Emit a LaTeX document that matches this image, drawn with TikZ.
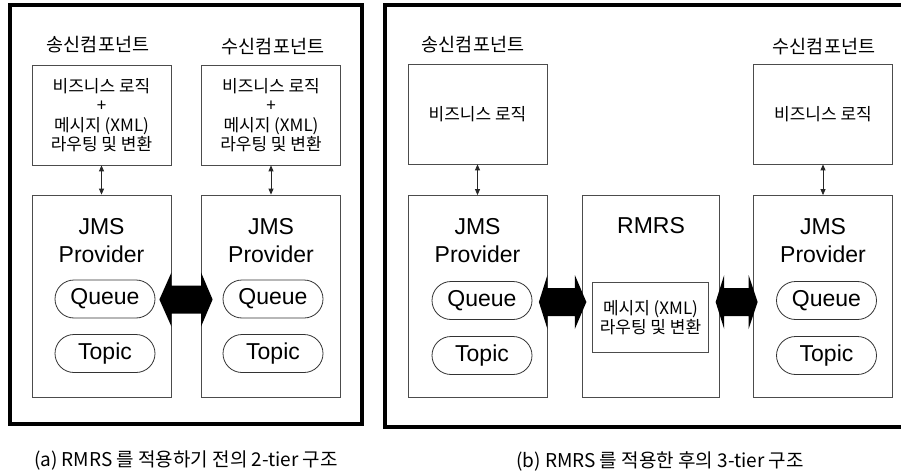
\documentclass[tikz,border=0pt]{standalone}
\usepackage{fontspec}
\setmainfont{Liberation Sans}
\newfontfamily\kr{Noto Sans CJK KR}
\usetikzlibrary{arrows.meta,shapes.misc,calc}

\newcommand{\fatarrow}[7]{%
  \fill let \p1=(#1.east), \p2=(#2.west), \p3=(0,#3) in
    (\x1-#4pt,\y3) -- (\x1-#4pt+#5pt,\y3+27pt) -- (\x1-#4pt+#5pt,\y3+14pt)
    -- (\x2+#6pt-#7pt,\y3+14pt) -- (\x2+#6pt-#7pt,\y3+27pt) -- (\x2+#6pt,\y3)
    -- (\x2+#6pt-#7pt,\y3-27pt) -- (\x2+#6pt-#7pt,\y3-14pt)
    -- (\x1-#4pt+#5pt,\y3-14pt) -- (\x1-#4pt+#5pt,\y3-27pt) -- cycle;}

\begin{document}
\begin{tikzpicture}[x=1pt,y=-1pt]
  \tikzstyle{frame}=[draw=black,line width=4pt]
  \tikzstyle{box}=[draw=black!70,line width=0.8pt,fill=white,inner sep=0pt]
  \tikzstyle{logic}=[box,minimum width=139pt,minimum height=100pt,align=center,font=\kr\fontsize{17}{19.5}\selectfont]
  \tikzstyle{provider}=[box,minimum width=139pt,minimum height=202pt]
  \tikzstyle{inner}=[box,minimum width=116pt,minimum height=70pt,align=center,font=\kr\fontsize{17}{19}\selectfont]
  \tikzstyle{title}=[font=\kr\fontsize{18.5}{20}\selectfont]
  \tikzstyle{big}=[font=\fontsize{23}{27}\selectfont]
  \tikzstyle{dest}=[draw=black!80,line width=0.8pt,rounded rectangle,minimum width=100pt,minimum height=38pt,inner sep=0pt,font=\fontsize{23}{27}\selectfont]
  \tikzstyle{link}=[draw=black!85,line width=0.8pt,{Triangle[length=6pt,width=5pt]}-{Triangle[length=6pt,width=5pt]}]
  \tikzstyle{caption}=[font=\kr\fontsize{19}{20}\selectfont]

  \useasboundingbox (0,0) rectangle (901,473);
  \fill[white] (0,0) rectangle (901,473);
  \draw[frame] (9.5,4.7) rectangle (362,424);
  \draw[frame] (384.5,4.7) rectangle (906,426.5);

  \begin{scope}
    \node [title] (sendA) at (98,45) {송신컴포넌트};
    \node [title] (recvA) at (273,47) {수신컴포넌트};
    \node [logic] (logicA1) at (101.5,115) {비즈니스 로직\\+\\메시지 (XML)\\라우팅 및 변환};
    \node [logic] (logicA2) at (271,115) {비즈니스 로직\\+\\메시지 (XML)\\라우팅 및 변환};
    \node [provider] (jmsA1) at (101.5,296) {};
    \node [provider] (jmsA2) at (271,296) {};
    \node [big] (jmsTextA1) at (101.5,227) {JMS};
    \node [big] (provTextA1) at (101.5,254) {Provider};
    \node [big] (jmsTextA2) at (271,227) {JMS};
    \node [big] (provTextA2) at (271,254) {Provider};
    \node [dest] (queueA1) at (105,299) {Queue};
    \node [dest] (topicA1) at (105,353.5) {Topic};
    \node [dest] (queueA2) at (273,299) {Queue};
    \node [dest] (topicA2) at (273,353.5) {Topic};
    \path[link] (logicA1) -- (jmsA1);
    \path[link] (logicA2) -- (jmsA2);
    \fatarrow{jmsA1}{jmsA2}{299.5}{12}{12}{11.5}{11.5}
    \node [caption] (capA) at (186,461) {(a) RMRS 를 적용하기 전의 2-tier 구조};
  \end{scope}

  \begin{scope}
    \node [title] (sendB) at (473,45) {송신컴포넌트};
    \node [title] (recvB) at (824,47) {수신컴포넌트};
    \node [logic] (logicB1) at (477.5,114) {비즈니스 로직};
    \node [logic] (logicB2) at (823,114) {비즈니스 로직};
    \node [provider] (jmsB1) at (477.5,296.5) {};
    \node [provider,minimum width=137.5pt] (rmrs) at (651,296.5) {};
    \node [provider] (jmsB2) at (823,296.5) {};
    \node [big] (jmsTextB1) at (477.5,227) {JMS};
    \node [big] (provTextB1) at (477.5,254.5) {Provider};
    \node [big] (rmrsText) at (651,226) {RMRS};
    \node [big] (jmsTextB2) at (823,227) {JMS};
    \node [big] (provTextB2) at (823,254.5) {Provider};
    \node [inner] (route) at (650.5,317.5) {메시지 (XML)\\라우팅 및 변환};
    \node [dest] (queueB1) at (482,300.5) {Queue};
    \node [dest] (topicB1) at (482,355.5) {Topic};
    \node [dest] (queueB2) at (826.5,300.5) {Queue};
    \node [dest] (topicB2) at (826.5,355.5) {Topic};
    \path[link] (logicB1) -- (jmsB1);
    \path[link] (logicB2) -- (jmsB2);
    \fatarrow{jmsB1}{rmrs}{302}{8.5}{8.5}{4.5}{11.5}
    \fatarrow{rmrs}{jmsB2}{302}{4.5}{8.5}{4.5}{9}
    \node [caption] (capB) at (660,461) {(b) RMRS 를 적용한 후의 3-tier 구조};
  \end{scope}
\end{tikzpicture}
\end{document}
